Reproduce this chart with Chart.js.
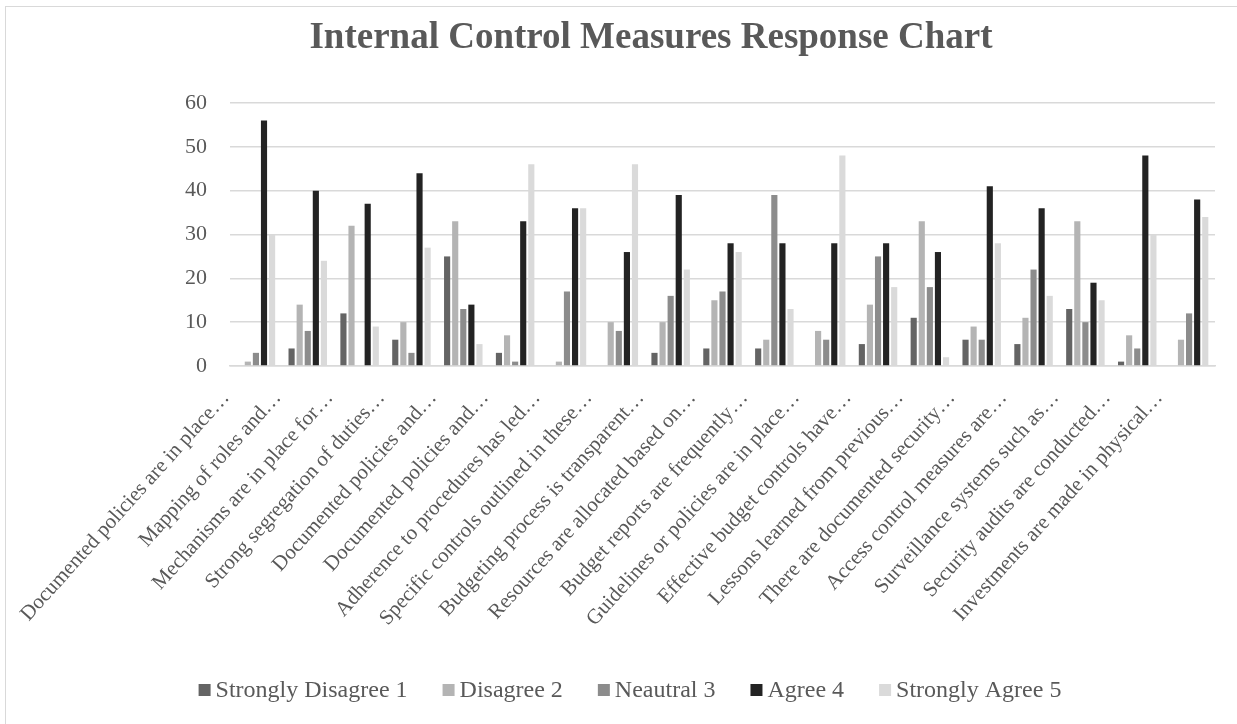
<!DOCTYPE html>
<html>
<head>
<meta charset="utf-8">
<script src="https://cdn.jsdelivr.net/npm/chart.js@4/dist/chart.umd.min.js"></script>
<style>
  html, body { margin: 0; padding: 0; background: #fff; overflow: hidden; }
  #frame { position: absolute; left: 5px; top: 6px; width: 1300px; height: 760px;
           border-left: 1.5px solid #d9d9d9; border-top: 1.5px solid #d9d9d9; }
  #wrap { position: absolute; left: 6px; top: 7px; width: 1248px; height: 717px; }
</style>
</head>
<body>
<div id="frame"></div>
<div id="wrap"><canvas id="chart"></canvas></div>
<script>
// Survey statements (shortened as shown on the axis)
const categories = [
  "Documented policies are in place…",
  "Mapping of roles and…",
  "Mechanisms are in place for…",
  "Strong segregation of duties…",
  "Documented policies and…",
  "Documented policies and…",
  "Adherence to procedures has led…",
  "Specific controls outlined in these…",
  "Budgeting process is transparent…",
  "Resources are allocated based on…",
  "Budget reports are frequently…",
  "Guidelines or policies are in place…",
  "Effective budget controls have…",
  "Lessons learned from previous…",
  "There are documented security…",
  "Access control measures are…",
  "Surveillance systems such as…",
  "Security audits are conducted…",
  "Investments are made in physical…"
];

// Response counts per answer option
const stronglyDisagree = [0, 4, 12, 6, 25, 3, 0, 0, 3, 4, 4, 0, 5, 11, 6, 5, 13, 1, 0];
const disagree         = [1, 14, 32, 10, 33, 7, 1, 10, 10, 15, 6, 8, 14, 33, 9, 11, 33, 7, 6];
const neutral          = [3, 8, 0, 3, 13, 1, 17, 8, 16, 17, 39, 6, 25, 18, 6, 22, 10, 4, 12];
const agree            = [56, 40, 37, 44, 14, 33, 36, 26, 39, 28, 28, 28, 28, 26, 41, 36, 19, 48, 38];
const stronglyAgree    = [30, 24, 9, 27, 5, 46, 36, 46, 22, 26, 13, 48, 18, 2, 28, 16, 15, 30, 34];

const yTicks = [0, 10, 20, 30, 40, 50, 60];

const seriesNames  = ["Strongly Disagree 1", "Disagree 2", "Neautral 3", "Agree 4", "Strongly Agree 5"];
const seriesValues = [stronglyDisagree, disagree, neutral, agree, stronglyAgree];
const seriesColors = ["#646464", "#b4b4b4", "#8c8c8c", "#232323", "#dadada"];

const TEXT = "#595959";
const SERIF = "'Liberation Serif', 'Times New Roman', serif";

// Title and a compact bottom legend, drawn at fixed centres
const decorPlugin = {
  id: "decor",
  afterDraw(chart) {
    const ctx = chart.ctx;
    ctx.save();
    ctx.fillStyle = TEXT;
    ctx.font = "bold 37px " + SERIF;
    ctx.textAlign = "center";
    ctx.textBaseline = "alphabetic";
    ctx.fillText("Internal Control Measures Response Chart", 645, 41);

    // legend: square swatch, small gap, label; items separated by a wider gap
    const box = 12, textGap = 5, itemGap = 35, baseline = 690, centre = 624;
    ctx.font = "24px " + SERIF;
    ctx.textAlign = "left";
    const items = chart.data.datasets.map(ds => ({
      text: ds.label, color: ds.backgroundColor,
      w: box + textGap + ctx.measureText(ds.label).width
    }));
    const total = items.reduce((s, it) => s + it.w, 0) + itemGap * (items.length - 1);
    let x = centre - total / 2;
    items.forEach(it => {
      ctx.fillStyle = it.color;
      ctx.fillRect(x, baseline - 13, box, box);
      ctx.fillStyle = TEXT;
      ctx.fillText(it.text, x + box + textGap, baseline);
      x += it.w + itemGap;
    });
    ctx.restore();
  }
};

new Chart(document.getElementById("chart"), {
  type: "bar",
  data: {
    labels: categories,
    datasets: seriesNames.map((name, i) => ({
      label: name,
      data: seriesValues[i],
      backgroundColor: seriesColors[i],
      borderWidth: 0,
      categoryPercentage: 0.78,
      barPercentage: 0.76
    }))
  },
  options: {
    responsive: true,
    maintainAspectRatio: false,
    animation: false,
    layout: { padding: { left: 39, right: 39, top: 96, bottom: 95 } },
    plugins: {
      title: { display: false },
      tooltip: { enabled: false },
      legend: { display: false }
    },
    scales: {
      x: {
        grid: { display: false, drawTicks: false },
        border: { display: true, color: "#d9d9d9", width: 1.5 },
        ticks: {
          autoSkip: false,
          minRotation: 48,
          maxRotation: 48,
          padding: 20,
          labelOffset: -30,
          color: TEXT,
          font: { family: SERIF, size: 21 }
        }
      },
      y: {
        min: 0,
        max: 60,
        afterBuildTicks(scale) { scale.ticks = yTicks.map(v => ({ value: v })); },
        afterFit(scale) { scale.width = 185; },
        grid: { color: "#d9d9d9", lineWidth: 1.5, drawTicks: false },
        border: { display: false },
        ticks: {
          padding: 23,
          color: TEXT,
          font: { family: SERIF, size: 22 }
        }
      }
    }
  },
  plugins: [decorPlugin]
});
</script>
</body>
</html>
